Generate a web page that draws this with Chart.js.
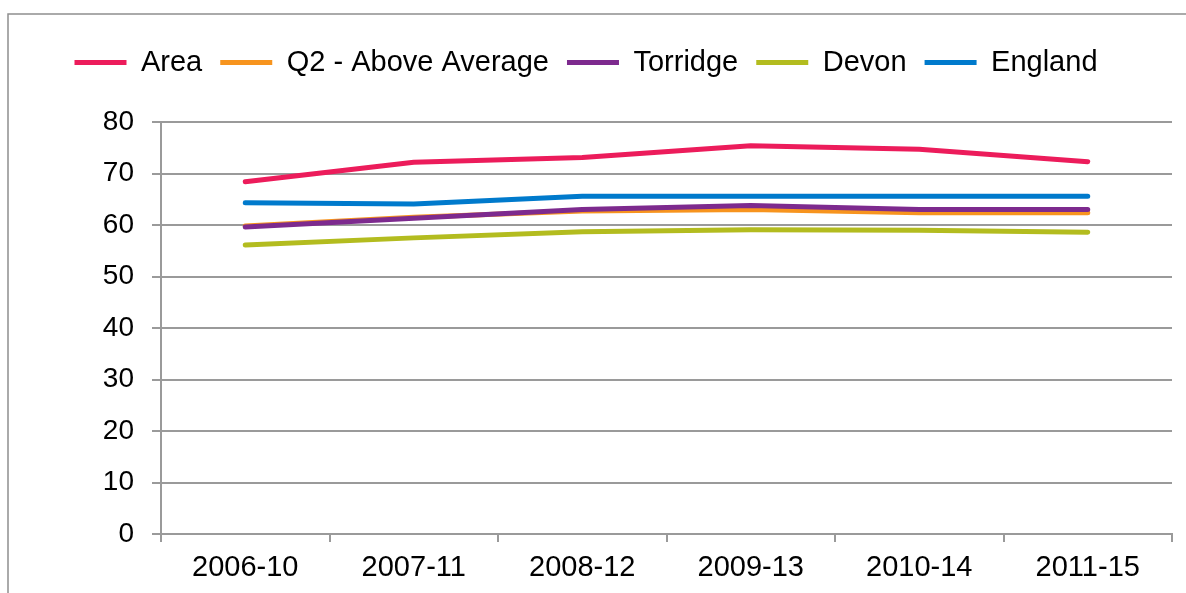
<!DOCTYPE html>
<html>
<head>
<meta charset="utf-8">
<script src="https://cdn.jsdelivr.net/npm/chart.js@4"></script>
<style>
  html, body { margin: 0; padding: 0; background: #fff; }
  #wrap { width: 1186px; height: 593px; }
</style>
</head>
<body>
<div id="wrap"><canvas id="myLineChart" width="1186" height="593"></canvas></div>
<script>
  const periods = ['2006-10', '2007-11', '2008-12', '2009-13', '2010-14', '2011-15'];
  const areaValues = [68.4, 72.2, 73.1, 75.4, 74.7, 72.3];
  const q2Values = [59.8, 61.5, 62.7, 63.0, 62.4, 62.4];
  const torridgeValues = [59.6, 61.3, 63.0, 63.8, 63.0, 63.0];
  const devonValues = [56.1, 57.5, 58.7, 59.1, 59.0, 58.6];
  const englandValues = [64.3, 64.1, 65.6, 65.6, 65.6, 65.6];
  const yTicks = [0, 10, 20, 30, 40, 50, 60, 70, 80];

  const gridGrey = '#9a9a9a';
  const fontFamily = '"Liberation Sans", Arial, sans-serif';

  function series(label, data, color, order) {
    return {
      label: label,
      data: data,
      borderColor: color,
      backgroundColor: color,
      borderWidth: 5,
      pointBorderColor: color,
      pointBackgroundColor: color,
      pointBorderWidth: 5,
      order: order
    };
  }

  const lineData = {
    labels: periods,
    datasets: [
      series('Area', areaValues, '#ec1c5b', 0),
      series('Q2 - Above Average', q2Values, '#f7941e', 2),
      series('Torridge', torridgeValues, '#7d2a8e', 1),
      series('Devon', devonValues, '#b3bc1f', 3),
      series('England', englandValues, '#007acc', 4)
    ]
  };

  // frame round the chart, like the original spreadsheet chart box
  const frame = {
    id: 'frame',
    beforeDraw(chart) {
      const ctx = chart.ctx;
      ctx.save();
      ctx.fillStyle = '#fff';
      ctx.fillRect(0, 0, chart.width, chart.height);
      ctx.strokeStyle = '#8f8f8f';
      ctx.lineWidth = 1.5;
      ctx.strokeRect(8, 14, chart.width + 20, chart.height + 20);
      ctx.restore();
    }
  };

  // extra room under the legend
  const legendGap = {
    id: 'legendGap',
    beforeInit(chart) {
      const fit = chart.legend.fit;
      chart.legend.fit = function () {
        fit.bind(chart.legend)();
        this.height += 35;
      };
    }
  };

  const lineConfig = {
    type: 'line',
    data: lineData,
    options: {
      responsive: false,
      animation: false,
      layout: { padding: { top: 30, right: 14, bottom: 0, left: 0 } },
      elements: {
        line: { tension: 0, borderCapStyle: 'round', borderJoinStyle: 'round' },
        point: { radius: 0, hoverRadius: 0 }
      },
      plugins: {
        tooltip: { enabled: false },
        legend: {
          position: 'top',
          labels: {
            font: { family: fontFamily, size: 29 },
            color: '#000',
            usePointStyle: true,
            pointStyle: 'line',
            pointStyleWidth: 52,
            boxHeight: 5,
            padding: 18,
            sort: (a, b) => a.datasetIndex - b.datasetIndex
          }
        }
      },
      scales: {
        x: {
          offset: true,
          afterFit: (s) => { s.height = 59; },
          grid: {
            offset: true,
            drawOnChartArea: false,
            drawTicks: true,
            tickLength: 8,
            color: gridGrey,
            lineWidth: 2
          },
          border: { display: true, color: gridGrey, width: 2 },
          ticks: {
            font: { family: fontFamily, size: 29 },
            color: '#000',
            padding: 9,
            maxRotation: 0
          }
        },
        y: {
          min: yTicks[0],
          max: yTicks[yTicks.length - 1],
          afterFit: (s) => { s.width = 161; },
          afterBuildTicks: (s) => { s.ticks = yTicks.map(v => ({ value: v })); },
          grid: {
            color: gridGrey,
            lineWidth: 2,
            drawTicks: true,
            tickLength: 9
          },
          border: { display: true, color: gridGrey, width: 2 },
          ticks: {
            font: { family: fontFamily, size: 28 },
            color: '#000',
            padding: 18
          }
        }
      }
    },
    plugins: [frame, legendGap]
  };

  const myLineChart = new Chart(
    document.getElementById('myLineChart'),
    lineConfig
  );
</script>
</body>
</html>
